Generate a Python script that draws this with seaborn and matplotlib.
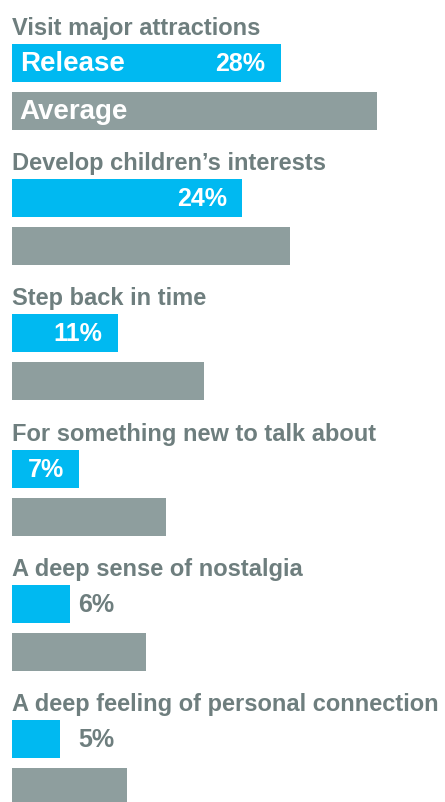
import matplotlib
matplotlib.use("Agg")
import matplotlib.pyplot as plt
import seaborn as sns
import pandas as pd

categories = [
    "Visit major attractions",
    "Develop children\u2019s interests",
    "Step back in time",
    "For something new to talk about",
    "A deep sense of nostalgia",
    "A deep feeling of personal connection",
]
series_names = ["Release", "Average"]
release_values = [28, 24, 11, 7, 6, 5]
average_values = [38, 29, 20, 16, 14, 12]

CYAN = "#00B9F1"
GREY = "#8E9E9E"
TEXT_GREY = "#6E7E7E"

sns.set_theme(style="white")
plt.rcParams["font.family"] = ["Liberation Sans Narrow", "Liberation Sans", "DejaVu Sans"]

rows = []
for c, r, a in zip(categories, release_values, average_values):
    rows.append({"category": c, "series": series_names[0], "value": r})
    rows.append({"category": c, "series": series_names[1], "value": a})
df = pd.DataFrame(rows)

fig = plt.figure(figsize=(4.45, 8.03), dpi=100)
ax = fig.add_axes([0, 0, 1, 1])

sns.barplot(
    data=df, y="category", x="value", hue="series", order=categories,
    hue_order=series_names, palette={series_names[0]: CYAN, series_names[1]: GREY},
    orient="h", width=0.711, gap=0.21, dodge=True, legend=False, ax=ax,
    saturation=1, linewidth=0,
)

px_per_unit = 9.6
ax.set_xlim(-12 / px_per_unit, 433 / px_per_unit)
pitch = 135.2
ax.set_ylim((803 - 88) / pitch, -88 / pitch)
ax.axis("off")

bar_off = 0.711 / 4  # hue offset in category units
for i, (c, r) in enumerate(zip(categories, release_values)):
    ax.text(0, i - 53 / pitch, c, ha="left", va="baseline", color=TEXT_GREY,
            fontsize=17, fontweight="bold", clip_on=False)
    yr = i - bar_off
    if r >= 7:
        ax.text(r - 1.6, yr, f"{r}%", ha="right", va="center", color="white",
                fontsize=18, fontweight="bold")
    else:
        ax.text(6.9, yr, f"{r}%", ha="left", va="center", color=TEXT_GREY,
                fontsize=18, fontweight="bold")

ax.text(0.8, 0 - bar_off, series_names[0], ha="left", va="center", color="white",
        fontsize=20, fontweight="bold")
ax.text(0.8, 0 + bar_off, series_names[1], ha="left", va="center", color="white",
        fontsize=20, fontweight="bold")

fig.savefig("out.png", dpi=100)
